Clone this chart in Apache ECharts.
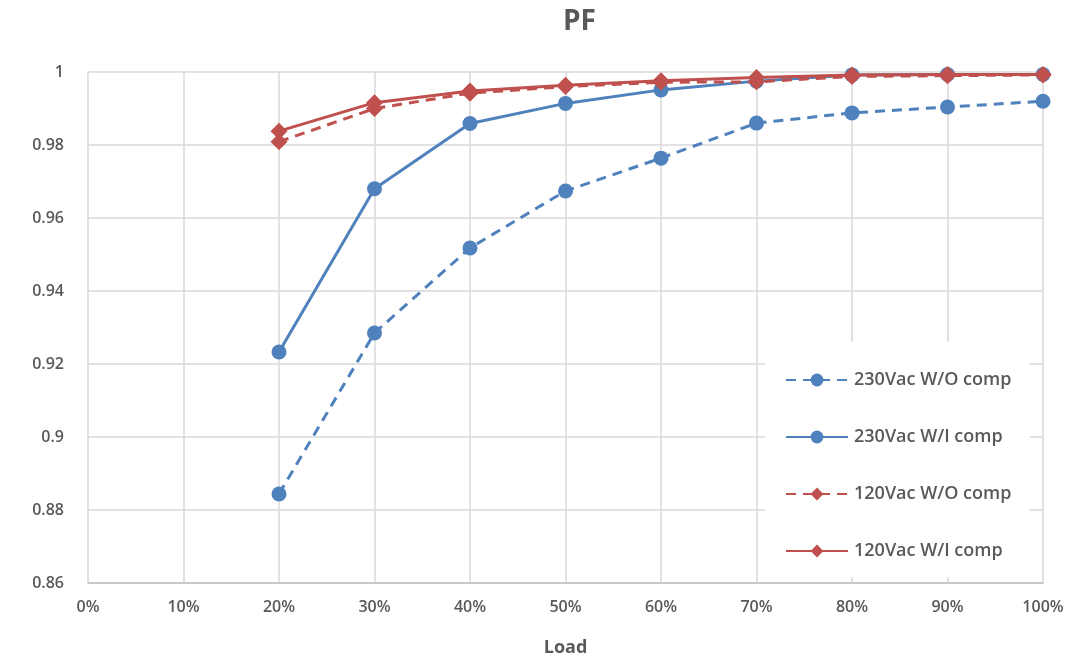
<!DOCTYPE html>
<html>
<head>
<meta charset="utf-8">
<script src="https://cdn.jsdelivr.net/npm/echarts@6/dist/echarts.min.js"></script>
<style>
html,body{margin:0;padding:0;background:#fff;}
#chart{width:1080px;height:669px;}
</style>
</head>
<body>
<div id="chart"></div>
<script>
const categories = ['0%','10%','20%','30%','40%','50%','60%','70%','80%','90%','100%'];
const s230wo = [null,null,0.8844,0.9285,0.9518,0.9674,0.9764,0.9860,0.9888,0.9904,0.9920];
const s230wi = [null,null,0.9233,0.9680,0.9859,0.9914,0.9951,0.9975,0.9992,0.9993,0.9993];
const s120wo = [null,null,0.9809,0.9900,0.9942,0.9960,0.9972,0.9973,0.9988,0.9990,0.9992];
const s120wi = [null,null,0.9838,0.9916,0.9948,0.9964,0.9976,0.9985,0.9992,0.9993,0.9993];
const seriesNames = ['230Vac W/O comp','230Vac W/I comp','120Vac W/O comp','120Vac W/I comp'];

const BLUE = '#4f81bd';
const RED = '#c0504d';
const TXT = '#595959';
const FONT = '"Open Sans", "Liberation Sans", sans-serif';

function mk(name, data, color, dashed, symbol, size){
  return {
    name, type:'line', data,
    symbol, symbolSize:size,
    connectNulls:false,
    lineStyle:{color, width:3, type: dashed ? [10,7] : 'solid'},
    itemStyle:{color},
    emphasis:{disabled:true},
    animation:false
  };
}

const chart = echarts.init(document.getElementById('chart'));
chart.setOption({
  backgroundColor:'#fff',
  textStyle:{fontFamily:FONT},
  title:{
    text:'PF', left:558, top:3,
    textStyle:{fontSize:28, fontWeight:'bold', color:TXT, fontFamily:FONT}
  },
  grid:{left:88, right:37, top:72, bottom:86},
  xAxis:{
    type:'category', data:categories, boundaryGap:false,
    name:'Load', nameLocation:'middle', nameGap:56,
    nameTextStyle:{fontSize:18, fontWeight:'bold', color:TXT, fontFamily:FONT},
    axisLine:{lineStyle:{color:'#bfbfbf', width:1.5}},
    axisTick:{show:false},
    axisLabel:{fontSize:16, fontWeight:600, color:TXT, margin:16, fontFamily:FONT},
    splitLine:{show:true, lineStyle:{color:'#d9d9d9', width:1.5}}
  },
  yAxis:{
    type:'value', min:0.86, max:1, interval:0.02,
    axisLine:{show:false}, axisTick:{show:false},
    axisLabel:{fontSize:16, fontWeight:600, color:TXT, margin:24, fontFamily:FONT},
    splitLine:{lineStyle:{color:'#d9d9d9', width:1.5}}
  },
  legend:{
    orient:'vertical', left:765, top:342,
    backgroundColor:'#fff',
    padding:[29,18,17,20],
    itemGap:39, itemWidth:62, itemHeight:16,
    textStyle:{fontSize:18, fontWeight:600, color:TXT, fontFamily:FONT, padding:[0,0,0,1]},
    data:seriesNames
  },
  series:[
    mk(seriesNames[0], s230wo, BLUE, true, 'circle', 15),
    mk(seriesNames[1], s230wi, BLUE, false, 'circle', 15),
    mk(seriesNames[2], s120wo, RED, true, 'diamond', 17),
    mk(seriesNames[3], s120wi, RED, false, 'diamond', 17)
  ]
});
</script>
</body>
</html>
